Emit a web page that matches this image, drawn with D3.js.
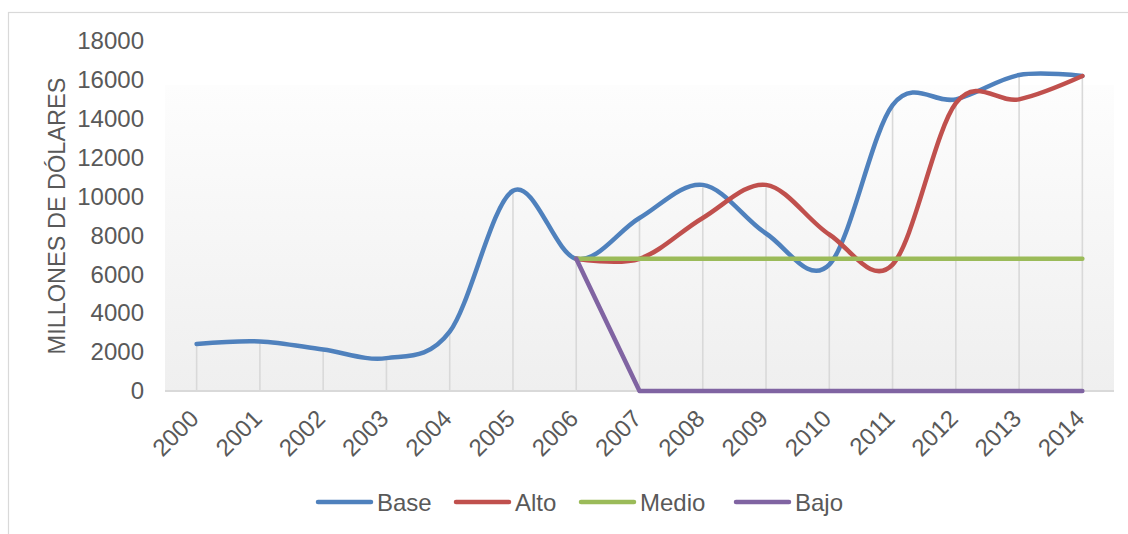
<!DOCTYPE html>
<html>
<head>
<meta charset="utf-8">
<script src="https://cdn.jsdelivr.net/npm/d3@7"></script>
<style>
  html, body { margin: 0; padding: 0; background: #ffffff; }
  svg { display: block; font-family: "Liberation Sans", Arial, sans-serif; }
</style>
</head>
<body>
<svg id="chart" width="1128" height="534"></svg>
<script>
// Categories and series (millones de dólares)
const years = ["2000","2001","2002","2003","2004","2005","2006","2007","2008","2009","2010","2011","2012","2013","2014"];
const base  = [2420, 2550, 2130, 1690, 3050, 10300, 6800, 8900, 10600, 8100, 6500, 14700, 15000, 16250, 16200];
const alto  = [null, null, null, null, null, null, 6800, 6800, 8900, 10600, 8050, 6500, 14800, 15000, 16200];
const medio = [null, null, null, null, null, null, 6800, 6800, 6800, 6800, 6800, 6800, 6800, 6800, 6800];
const bajo  = [null, null, null, null, null, null, 6800, 0, 0, 0, 0, 0, 0, 0, 0];
const yTicks = [0, 2000, 4000, 6000, 8000, 10000, 12000, 14000, 16000, 18000];
const seriesNames = ["Base", "Alto", "Medio", "Bajo"];

const series = [
  { name: seriesNames[0], values: base,  color: "#4f81bd", smooth: true },
  { name: seriesNames[1], values: alto,  color: "#c0504d", smooth: true },
  { name: seriesNames[2], values: medio, color: "#9bbb59", smooth: true },
  { name: seriesNames[3], values: bajo,  color: "#8064a2", smooth: false }
];

const svg = d3.select("#chart");
const textColor = "#595959";
const gridColor = "#d9d9d9";
const fontSize = 24;

// Outer chart frame
svg.append("rect")
  .attr("x", 8.5).attr("y", 12.5)
  .attr("width", 1140).attr("height", 540)
  .attr("fill", "#ffffff")
  .attr("stroke", gridColor).attr("stroke-width", 1.2);

const plot = { left: 165, right: 1114, top: 41, bottom: 391 };

const x = d3.scalePoint().domain(years).range([plot.left, plot.right]).padding(0.5);
const y = d3.scaleLinear().domain([0, 18000]).range([plot.bottom, plot.top]);

// Plot area background gradient
const defs = svg.append("defs");
const grad = defs.append("linearGradient")
  .attr("id", "plotBg").attr("x1", 0).attr("y1", 0).attr("x2", 0).attr("y2", 1);
grad.append("stop").attr("offset", "0%").attr("stop-color", "#fdfdfd");
grad.append("stop").attr("offset", "100%").attr("stop-color", "#efefef");

svg.append("rect")
  .attr("x", plot.left).attr("y", 85)
  .attr("width", plot.right - plot.left).attr("height", plot.bottom - 85)
  .attr("fill", "url(#plotBg)");

// Drop lines from the highest value in each year down to the axis
const dropData = years.map((yr, i) => ({
  year: yr,
  top: d3.max(series, s => s.values[i])
}));
svg.append("g").selectAll("line")
  .data(dropData)
  .join("line")
  .attr("x1", d => x(d.year)).attr("x2", d => x(d.year))
  .attr("y1", d => y(d.top)).attr("y2", y(0))
  .attr("stroke", gridColor).attr("stroke-width", 1.6);

// Category axis
const xAxis = svg.append("g")
  .attr("transform", `translate(0,${plot.bottom})`)
  .call(d3.axisBottom(x).tickSize(0).tickSizeOuter(0));
xAxis.select(".domain")
  .attr("d", `M${plot.left},0H${plot.right}`)
  .attr("stroke", gridColor).attr("stroke-width", 2);
xAxis.selectAll(".tick text")
  .attr("fill", textColor)
  .attr("font-size", fontSize)
  .attr("font-family", "Liberation Sans, Arial, sans-serif")
  .attr("text-anchor", "end")
  .attr("dy", 0)
  .attr("y", 0)
  .attr("transform", "translate(3,29) rotate(-45)");

// Value axis
const yAxis = svg.append("g")
  .attr("transform", `translate(${plot.left},0)`)
  .call(d3.axisLeft(y).tickValues(yTicks).tickFormat(d3.format("d")).tickSize(0).tickPadding(21));
yAxis.select(".domain").remove();
yAxis.selectAll(".tick text")
  .attr("fill", textColor)
  .attr("font-size", fontSize)
  .attr("font-family", "Liberation Sans, Arial, sans-serif");

// Axis title
svg.append("text")
  .attr("transform", `translate(65,${(plot.top + plot.bottom) / 2}) rotate(-90)`)
  .attr("text-anchor", "middle")
  .attr("fill", textColor)
  .attr("font-size", 23.5)
  .text("MILLONES DE DÓLARES");

// Series lines
const lineGen = smooth => d3.line()
  .defined(d => d.v !== null)
  .x(d => x(d.year))
  .y(d => y(d.v))
  .curve(smooth ? d3.curveCardinal.tension(0) : d3.curveLinear);

svg.append("g").selectAll("path")
  .data(series)
  .join("path")
  .attr("d", s => lineGen(s.smooth)(years.map((yr, i) => ({ year: yr, v: s.values[i] }))))
  .attr("fill", "none")
  .attr("stroke", s => s.color)
  .attr("stroke-width", 4.5)
  .attr("stroke-linecap", "round")
  .attr("stroke-linejoin", "round");

// Legend
const legendX = [318, 456, 581, 736];
const legendY = 502;
const legend = svg.append("g").selectAll("g")
  .data(series)
  .join("g")
  .attr("transform", (s, i) => `translate(${legendX[i]},${legendY})`);
legend.append("line")
  .attr("x1", 0).attr("x2", 53)
  .attr("stroke", s => s.color)
  .attr("stroke-width", 4.5)
  .attr("stroke-linecap", "round");
legend.append("text")
  .attr("x", 59).attr("y", 0).attr("dy", "0.36em")
  .attr("fill", textColor)
  .attr("font-size", fontSize)
  .text(s => s.name);
</script>
</body>
</html>
